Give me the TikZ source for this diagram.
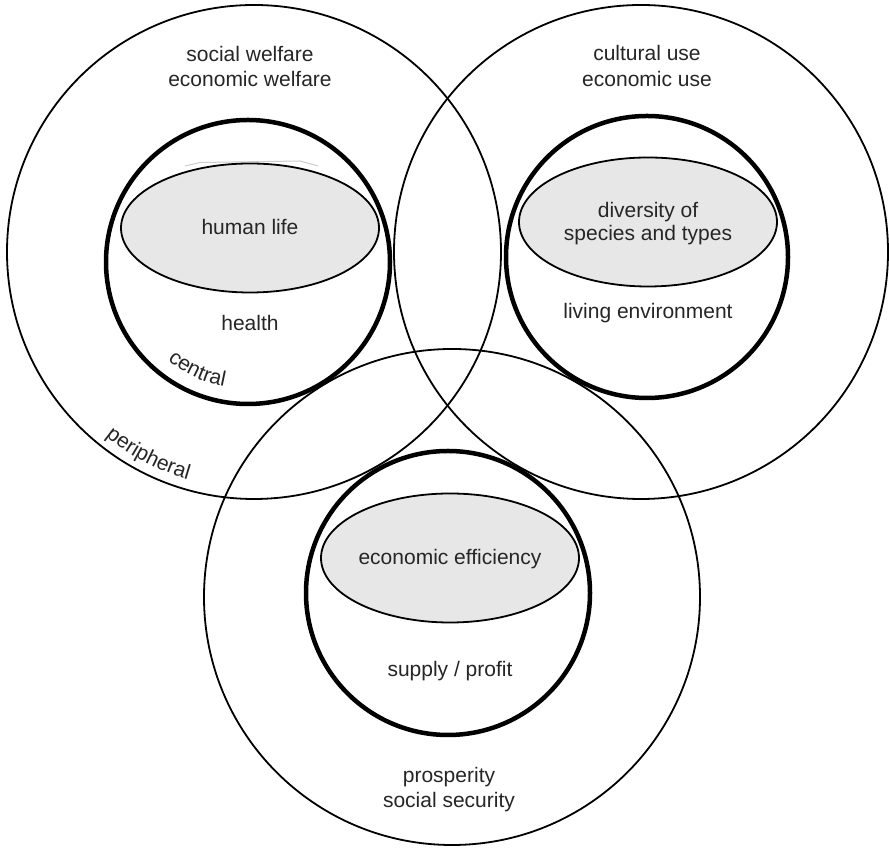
\documentclass[tikz,border=0pt]{standalone}
\usepackage{fontspec}
\setmainfont{Liberation Sans}
\usetikzlibrary{shapes.geometric,decorations.text}
\newcommand\lblfont{\fontsize{21}{25}\selectfont}
\begin{document}
\begin{tikzpicture}[x=1pt,y=1pt,
  bigring/.style={circle, draw=black, line width=1.8pt, minimum size=#1, inner sep=0pt},
  midring/.style={circle, draw=black, line width=4.5pt, minimum size=#1, inner sep=0pt},
  coreell/.style={ellipse, draw=black, line width=1.8pt, fill=gray!19, minimum width=258pt, minimum height=129pt, inner sep=0pt},
  lbl/.style={anchor=base, text=black!85, font=\lblfont, inner sep=0pt},
]
\useasboundingbox (0,0) rectangle (889,848);
\fill[white] (0,0) rectangle (889,848);

% outer (peripheral) circles
\node[bigring=494pt] (Lo) at (254,596) {};
\node[bigring=494pt] (Ro) at (641,596) {};
\node[bigring=496pt] (Bo) at (452,251) {};

% central circles
\node[midring=284pt] (Li) at (248,586) {};
\node[midring=282pt] (Ri) at (647,591) {};
\node[midring=284pt] (Bi) at (448,255) {};

% cores
\draw[gray!40, line width=1pt] (185,682) -- (200,685.5) -- (300,687) -- (318,682);
\node[coreell] (Le) at (250,620) {};
\node[coreell] (Re) at (648,626) {};
\node[coreell] (Be) at (450,290) {};

% texts
\node[lbl] (t1) at (250,786.5) {social welfare};
\node[lbl] (t2) at (250,761) {economic welfare};
\node[lbl] (t3) at (647,787) {cultural use};
\node[lbl] (t4) at (647,761) {economic use};
\node[lbl] (t5) at (250,613) {human life};
\node[lbl] (t6) at (250,517) {health};
\node[lbl] (t7) at (648,630) {diversity of};
\node[lbl] (t8) at (648,607) {species and types};
\node[lbl] (t9) at (648,529.5) {living environment};
\node[lbl] (t10) at (450,283) {economic efficiency};
\node[lbl] (t11) at (450,171) {supply / profit};
\node[lbl] (t12) at (449,65) {prosperity};
\node[lbl] (t13) at (449,40) {social security};

% curved labels
\path[decorate, decoration={text along path, text align=center,
  text={|\lblfont\color{black!85}|central}}]
  ([shift={(215:127pt)}]Li.center) arc[start angle=215, end angle=275, radius=127pt];
\path[decorate, decoration={text along path, text align=center,
  text={|\lblfont\color{black!85}|peripheral}}]
  ([shift={(212.5:237pt)}]Lo.center) arc[start angle=212.5, end angle=272.5, radius=237pt];
\end{tikzpicture}
\end{document}
